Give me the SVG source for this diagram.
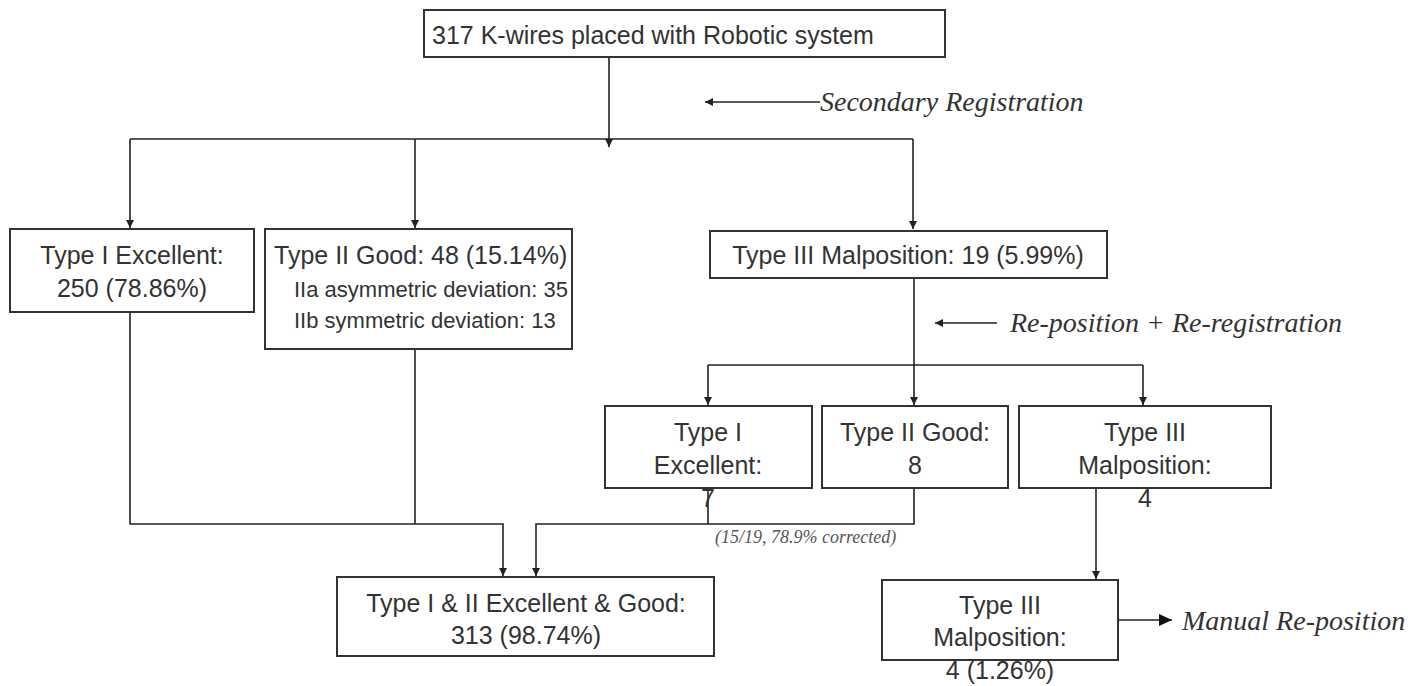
<svg xmlns="http://www.w3.org/2000/svg" width="1417" height="686" viewBox="0 0 1417 686">
<defs>
<marker id="ah" markerWidth="10" markerHeight="10" refX="9" refY="5" orient="auto" markerUnits="userSpaceOnUse">
<path d="M1,1 L9,5 L1,9 Z" fill="#222"/>
</marker>
<marker id="ahb" markerWidth="14" markerHeight="14" refX="13" refY="7" orient="auto" markerUnits="userSpaceOnUse">
<path d="M0,1 L13,7 L0,13 Z" fill="#111"/>
</marker>
<style>
.box{fill:#fff;stroke:#333;stroke-width:2}
.t{font-family:"Liberation Sans",Arial,sans-serif;font-size:25px;fill:#333}
.ts{font-family:"Liberation Sans",Arial,sans-serif;font-size:22px;fill:#333}
.i{font-family:"Liberation Serif","Times New Roman",serif;font-style:italic;font-size:28px;fill:#333}
.ism{font-family:"Liberation Serif","Times New Roman",serif;font-style:italic;font-size:18px;fill:#555}
.c{fill:none;stroke:#222;stroke-width:1.6}
</style>
</defs>
<rect width="1417" height="686" fill="#fff"/>
<g id="connectors">
<path class="c" d="M609,57 V147" marker-end="url(#ah)"/>
<path class="c" d="M130,139 H913"/>
<path class="c" d="M130,139 V228" marker-end="url(#ah)"/>
<path class="c" d="M415,139 V228" marker-end="url(#ah)"/>
<path class="c" d="M913,139 V229" marker-end="url(#ah)"/>
<path class="c" d="M820,102 H705" marker-end="url(#ah)"/>
<path class="c" d="M914,278 V405" marker-end="url(#ah)"/>
<path class="c" d="M997,323 H935" marker-end="url(#ah)"/>
<path class="c" d="M708,365 H1143"/>
<path class="c" d="M708,365 V405" marker-end="url(#ah)"/>
<path class="c" d="M1143,365 V405" marker-end="url(#ah)"/>
<path class="c" d="M130,312 V524 H503 V576" marker-end="url(#ah)"/>
<path class="c" d="M415,349 V524"/>
<path class="c" d="M914,488 V524 H536 V576" marker-end="url(#ah)"/>
<path class="c" d="M708,488 V524"/>
<path class="c" d="M1096,488 V579" marker-end="url(#ah)"/>
<path class="c" d="M1118,620 H1172" marker-end="url(#ahb)"/>
</g>
<g id="n-top">
<rect class="box" x="424" y="10" width="521" height="47"/>
<text class="t" x="432" y="44">317 K-wires placed with Robotic system</text>
</g>
<g id="lbl-secondary">
<text class="i" x="820" y="111">Secondary Registration</text>
</g>
<g id="n-type1">
<rect class="box" x="10" y="229" width="244" height="83"/>
<text class="t" x="132" y="264" text-anchor="middle">Type I Excellent:</text>
<text class="t" x="132" y="297" text-anchor="middle">250 (78.86%)</text>
</g>
<g id="n-type2">
<rect class="box" x="265" y="229" width="307" height="120"/>
<text class="t" x="274" y="264">Type II Good: 48 (15.14%)</text>
<text class="ts" x="294" y="297">IIa asymmetric deviation: 35</text>
<text class="ts" x="294" y="328">IIb symmetric deviation: 13</text>
</g>
<g id="n-type3">
<rect class="box" x="710" y="231" width="397" height="47"/>
<text class="t" x="908" y="264" text-anchor="middle">Type III Malposition: 19 (5.99%)</text>
</g>
<g id="lbl-repos">
<text class="i" x="1010" y="332">Re-position + Re-registration</text>
</g>
<g id="n-r-type1">
<rect class="box" x="605" y="406" width="207" height="82"/>
<text class="t" x="708" y="441" text-anchor="middle">Type I</text>
<text class="t" x="708" y="474" text-anchor="middle">Excellent:</text>
<text class="t" x="708" y="507" text-anchor="middle">7</text>
</g>
<g id="n-r-type2">
<rect class="box" x="822" y="406" width="186" height="82"/>
<text class="t" x="915" y="441" text-anchor="middle">Type II Good:</text>
<text class="t" x="915" y="474" text-anchor="middle">8</text>
</g>
<g id="n-r-type3">
<rect class="box" x="1019" y="406" width="252" height="82"/>
<text class="t" x="1145" y="441" text-anchor="middle">Type III</text>
<text class="t" x="1145" y="474" text-anchor="middle">Malposition:</text>
<text class="t" x="1145" y="507" text-anchor="middle">4</text>
</g>
<g id="lbl-corrected">
<text class="ism" x="715" y="543">(15/19, 78.9% corrected)</text>
</g>
<g id="n-good">
<rect class="box" x="337" y="577" width="377" height="79"/>
<text class="t" x="526" y="612" text-anchor="middle">Type I &amp; II Excellent &amp; Good:</text>
<text class="t" x="526" y="644" text-anchor="middle">313 (98.74%)</text>
</g>
<g id="n-mal">
<rect class="box" x="882" y="580" width="236" height="80"/>
<text class="t" x="1000" y="614" text-anchor="middle">Type III</text>
<text class="t" x="1000" y="646" text-anchor="middle">Malposition:</text>
<text class="t" x="1000" y="679" text-anchor="middle">4 (1.26%)</text>
</g>
<g id="lbl-manual">
<text class="i" x="1182" y="630">Manual Re-position</text>
</g>
</svg>
